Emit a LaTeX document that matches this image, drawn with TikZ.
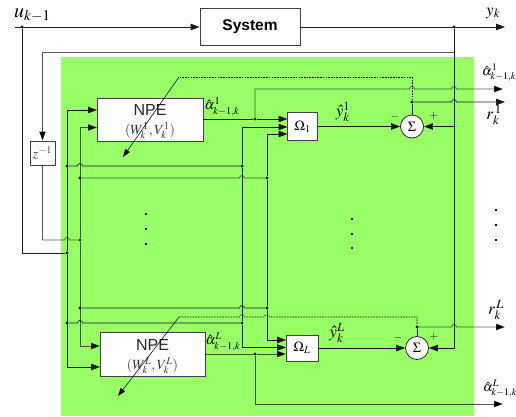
\documentclass[tikz,border=0pt]{standalone}
\usepackage{mathptmx}
\usepackage{fontspec}
\setmainfont{Liberation Serif}
\newfontfamily\arial{Liberation Sans}
\usetikzlibrary{arrows.meta}
\definecolor{gfill}{RGB}{153,255,102}
\begin{document}
\begin{tikzpicture}[x=1pt,y=-1pt,
 wire/.style={line width=0.75pt,draw=black!90},
 gwire/.style={line width=0.75pt,draw=black,draw opacity=0.65},
 arr/.style={-{Triangle[length=9pt,width=6.5pt]}},
 jdot/.style={circle,fill=black,inner sep=0pt,minimum size=3.4pt},
 blk/.style={draw=black!75,line width=0.8pt,fill=white,inner sep=0pt},
 sumn/.style={circle,draw=black!85,fill=white,line width=0.8pt,minimum size=23pt,inner sep=0pt},
 fb/.style={line width=0.6pt,dash pattern=on 1.6pt off 1.1pt},
 adapt/.style={line width=0.55pt,-{Triangle[length=8pt,width=5.5pt]}},
 ell/.style={rectangle,fill=black,minimum size=2pt,inner sep=0pt},
 big/.style={font=\fontsize{20}{22}\selectfont},
 mid/.style={font=\fontsize{17}{19}\selectfont},
 rlab/.style={font=\fontsize{13.5}{15}\selectfont},
 sml/.style={font=\fontsize{14}{16}\selectfont},
]
\useasboundingbox (0,0) rectangle (516,416);
\fill[gfill] (61,57) rectangle (474,416);

% blocks
\node[blk,minimum width=100pt,minimum height=37pt] (sys) at (250,27) {\arial\bfseries\fontsize{15.5}{18}\selectfont System};
\node[blk,minimum width=106pt,minimum height=43pt] (npe1) at (150,119.5) {};
\node[blk,minimum width=105pt,minimum height=44pt] (npeL) at (152.5,354) {};
\node[font=\arial\fontsize{16}{18}\selectfont,text=black!85] (npe1t) at (150,110) {NPE};
\node[sml,text=black!80] (npe1w) at (150,130.5) {$(W_k^1,V_k^1)$};
\node[font=\arial\fontsize{16}{18}\selectfont,text=black!85] (npeLt) at (152.5,345) {NPE};
\node[sml,text=black!80] (npeLw) at (152.5,365.5) {$(W_k^L,V_k^L)$};
\node[blk,sml,minimum width=30pt,minimum height=28pt] (om1) at (302.5,126.5) {$\Omega_1$};
\node[blk,sml,minimum width=32pt,minimum height=26pt] (omL) at (302,348) {$\Omega_L$};
\node[sumn,sml] (s1) at (412,126.5) {$\Sigma$};
\node[sumn,sml] (sL) at (417,348) {$\Sigma$};
\node[blk,sml,minimum width=25pt,minimum height=24pt,text=black!70] (z) at (42.5,153) {$z^{-1}$};

% junction coordinates
\coordinate (uin) at (15,27);
\coordinate (yout) at (505,27);
\coordinate (p1) at (454,126.5);
\coordinate (fbk) at (454,52);
\coordinate (n1a) at (97,110);
\coordinate (n1b) at (97,127.5);
\coordinate (nLa) at (100,346);
\coordinate (nLb) at (100,367);
\coordinate (i11) at (287.5,119);
\coordinate (i12) at (287.5,127);
\coordinate (i13) at (287.5,134);
\coordinate (iL1) at (286,340);
\coordinate (iL2) at (286,347.5);
\coordinate (iL3) at (286,354);
\coordinate (a1out) at (503,89);
\coordinate (aLout) at (503,404);
\coordinate (r1out) at (505,102);
\coordinate (rLout) at (505,327);
\coordinate (f1) at (179,77);
\coordinate (fL) at (179,317);
\coordinate (t1) at (123,157);
\coordinate (tL) at (118,396);

% dots
\node[jdot] (du) at (22,27) {};
\node[jdot] (dy) at (454,27) {};
\node[jdot] (du2) at (67,253) {};
\node[jdot] (dz) at (80,240) {};
\node[jdot] (a1) at (67,166) {};
\node[jdot] (b1) at (80,178) {};
\node[jdot] (a2) at (242,166) {};
\node[jdot] (b2) at (267,178) {};
\node[jdot] (b3) at (80,308) {};
\node[jdot] (a3) at (67,323) {};
\node[jdot] (b4) at (267,308) {};
\node[jdot] (a4) at (242,323) {};
\node[jdot] (o1) at (255,119) {};
\node[jdot] (oL) at (255,354) {};
\node[jdot] (r1) at (412,102) {};
\node[jdot] (rL) at (417,327) {};

% system in/out
\draw[wire,arr] (uin) -- (sys.west);
\draw[wire,arr] (sys.east) -- (yout);
\draw[wire] (du) |- (du2);
\draw[wire,arr] (dy) |- (sL.east);
\draw[wire,arr] (p1) -- (s1.east);
\draw[gwire,arr] (fbk) -| (z.north);
\draw[gwire] (z.south) -- (42.5,240) -- (64.5,240) arc[start angle=180,end angle=360,radius=2.5] -- (dz);

% input buses
\draw[wire,arr] (du2) |- (n1a);
\draw[wire,arr] (du2) |- (nLb);
\draw[gwire,arr] (dz) |- (n1b);
\draw[gwire,arr] (dz) |- (nLa);

\draw[wire] (a1) -- (77.5,166) arc[start angle=180,end angle=360,radius=2.5] -- (a2);
\draw[gwire] (b1) -- (239.5,178) arc[start angle=180,end angle=360,radius=2.5] -- (b2);
\draw[wire] (b3) -- (239.5,308) arc[start angle=180,end angle=360,radius=2.5] -- (b4);
\draw[wire] (a3) -- (77.5,323) arc[start angle=180,end angle=360,radius=2.5] -- (a4);

\draw[wire,arr] (a2) |- (i12);
\draw[wire] (a2) -- (a4);
\draw[wire,arr] (a4) |- (iL2);
\draw[wire,arr] (b2) |- (i13);
\draw[wire] (b2) -- (b4);
\draw[wire,arr] (b4) |- (iL1);

% NPE outputs
\draw[wire] (o1 -| npe1.east) -- (o1);
\draw[wire,arr] (o1) -- (i11);
\draw[gwire,arr] (o1) -- (255,89) -- (409.5,89) arc[start angle=180,end angle=360,radius=2.5] -- (451.5,89) arc[start angle=180,end angle=360,radius=2.5] -- (a1out);
\draw[gwire] (oL -| npeL.east) -- (oL);
\draw[gwire,arr] (oL) -- (iL3);
\draw[gwire,arr] (oL) |- (aLout);

% Omega outputs
\draw[wire,arr] (om1.east) -- (s1.west);
\draw[wire,arr] (omL.east) -- (sL.west);

% residuals
\draw[wire] (s1.north) -- (r1);
\draw[wire,arr] (r1) -- (451.5,102) arc[start angle=180,end angle=360,radius=2.5] -- (r1out);
\draw[wire] (sL.north) -- (rL);
\draw[gwire,arr] (rL) -- (451.5,327) arc[start angle=180,end angle=360,radius=2.5] -- (rLout);

% feedback
\draw[fb] (r1) -- (412,77) -- (f1);
\draw[fb] (fL) -- (239.5,317) arc[start angle=180,end angle=360,radius=2.5] -- (264.5,317) arc[start angle=180,end angle=360,radius=2.5] -- (417,317) -- (rL);
\draw[adapt] (f1) -- (t1);
\draw[adapt] (fL) -- (tL);

% labels
\node[big,anchor=base west,inner sep=0pt] (lu) at (14,17) {$u_{k-1}$};
\node[mid,anchor=base west,inner sep=0pt] (ly) at (486,15) {$y_k$};
\node[rlab,anchor=west,inner sep=0pt] (la1) at (482,73) {$\hat\alpha^1_{k-1,k}$};
\node[mid] (lr1) at (494,115) {$r_k^{\,1}$};
\node[mid] (lrL) at (496,310) {$r_k^{\,L}$};
\node[rlab,anchor=west,inner sep=0pt] (laL) at (483,389) {$\hat\alpha^L_{k-1,k}$};
\node[sml] (la1m) at (222,107) {$\hat\alpha^1_{k-1,k}$};
\node[sml] (laLm) at (223,342) {$\hat\alpha^L_{k-1,k}$};
\node[mid] (ly1) at (343,112) {$\hat y_k^1$};
\node[mid] (lyL) at (337,333) {$\hat y_k^L$};
\node[font=\fontsize{11}{12}\selectfont] (m1) at (395,117) {$-$};
\node[font=\fontsize{11}{12}\selectfont] (p1l) at (434,116) {$+$};
\node[font=\fontsize{11}{12}\selectfont] (m2) at (398,338) {$-$};
\node[font=\fontsize{11}{12}\selectfont] (p2l) at (434,337) {$+$};

% ellipses
\foreach \yy in {214,229,244} \node[ell] at (146,\yy) {};
\foreach \yy in {219,234,248} \node[ell] at (352,\yy) {};
\foreach \yy in {210,225,240} \node[ell] at (496,\yy) {};
\end{tikzpicture}
\end{document}
